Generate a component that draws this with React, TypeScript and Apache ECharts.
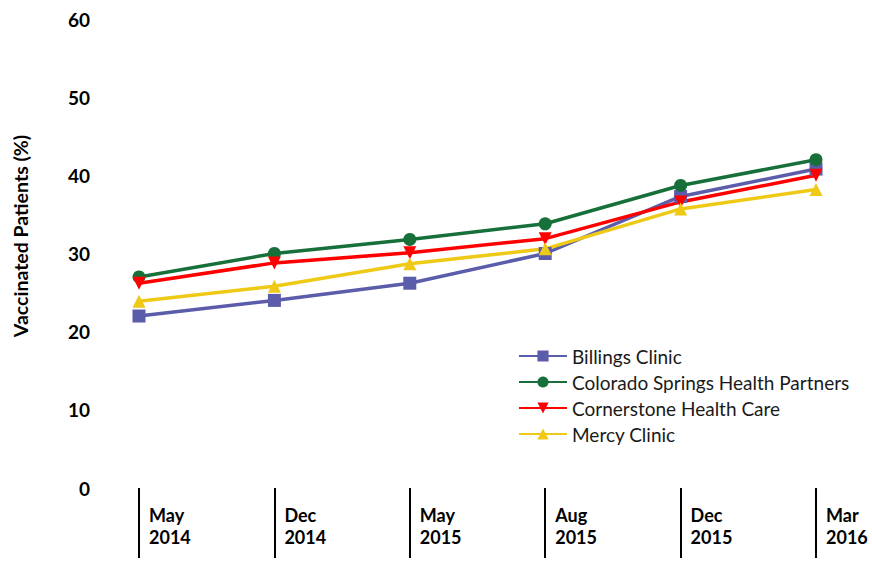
import React, { useEffect, useRef } from "react";
import * as echarts from "echarts";

const categories = ["May\n2014", "Dec\n2014", "May\n2015", "Aug\n2015", "Dec\n2015", "Mar\n2016"];
const billings = [22, 24, 26.2, 30, 37.3, 40.8];
const colorado = [27, 30, 31.8, 33.8, 38.7, 42];
const cornerstone = [26.2, 28.8, 30.1, 31.9, 36.6, 40];
const mercy = [23.9, 25.8, 28.7, 30.6, 35.7, 38.2];
const seriesNames = ["Billings Clinic", "Colorado Springs Health Partners", "Cornerstone Health Care", "Mercy Clinic"];
const colors = ["#5B5CAA", "#17703A", "#FF0000", "#EEC916"];
const yTicks = { min: 0, max: 60, interval: 10 };

export default function App() {
  const ref = useRef<HTMLDivElement>(null);
  useEffect(() => {
    if (!ref.current) return;
    const chart = echarts.init(ref.current, null, { renderer: "svg" });
    const font = "Lato, 'Open Sans', sans-serif";
    const symbols = ["rect", "circle", "triangle", "triangle"];
    const rotates = [0, 0, 180, 0];
    const datas = [billings, colorado, cornerstone, mercy];
    chart.setOption({
      animation: false,
      backgroundColor: "#ffffff",
      grid: { left: 139, right: 56, top: 19, bottom: 76 },
      legend: {
        orient: "vertical",
        left: 513,
        top: 340,
        itemWidth: 48,
        itemHeight: 14,
        itemGap: 4,
        data: seriesNames,
        textStyle: { fontFamily: font, fontSize: 19, color: "#1a1a1a", lineHeight: 22 },
      },
      graphic: [
        {
          type: "text",
          x: 20,
          y: 236,
          rotation: Math.PI / 2,
          style: {
            text: "Vaccinated Patients (%)",
            fontFamily: font,
            fontWeight: "bold",
            fontSize: 19.5,
            fill: "#000",
            textAlign: "center",
            textVerticalAlign: "middle",
          },
        },
      ],
      xAxis: {
        type: "category",
        data: categories,
        boundaryGap: false,
        offset: 10,
        axisLine: { show: false },
        axisTick: { show: true, length: 70, lineStyle: { color: "#000", width: 2 } },
        axisLabel: {
          interval: 0,
          align: "left",
          verticalAlign: "top",
          margin: 6,
          padding: [0, 0, 0, 10],
          fontFamily: font,
          fontWeight: "bold",
          fontSize: 18,
          lineHeight: 22,
          color: "#000",
        },
        splitLine: { show: false },
      },
      yAxis: {
        type: "value",
        min: yTicks.min,
        max: yTicks.max,
        interval: yTicks.interval,
        axisLine: { show: false },
        axisTick: { show: false },
        splitLine: { show: false },
        axisLabel: {
          margin: 49,
          fontFamily: font,
          fontWeight: "bold",
          fontSize: 19,
          color: "#000",
        },
      },
      series: seriesNames.map((name, i) => ({
        name,
        type: "line",
        data: datas[i],
        symbol: symbols[i],
        symbolRotate: rotates[i],
        symbolSize: 13,
        color: colors[i],
        lineStyle: { color: colors[i], width: 3.5 },
        itemStyle: { color: colors[i] },
      })),
    });
    return () => chart.dispose();
  }, []);
  return <div ref={ref} style={{ position: "fixed", left: 0, top: 0, width: 872, height: 564 }} />;
}
